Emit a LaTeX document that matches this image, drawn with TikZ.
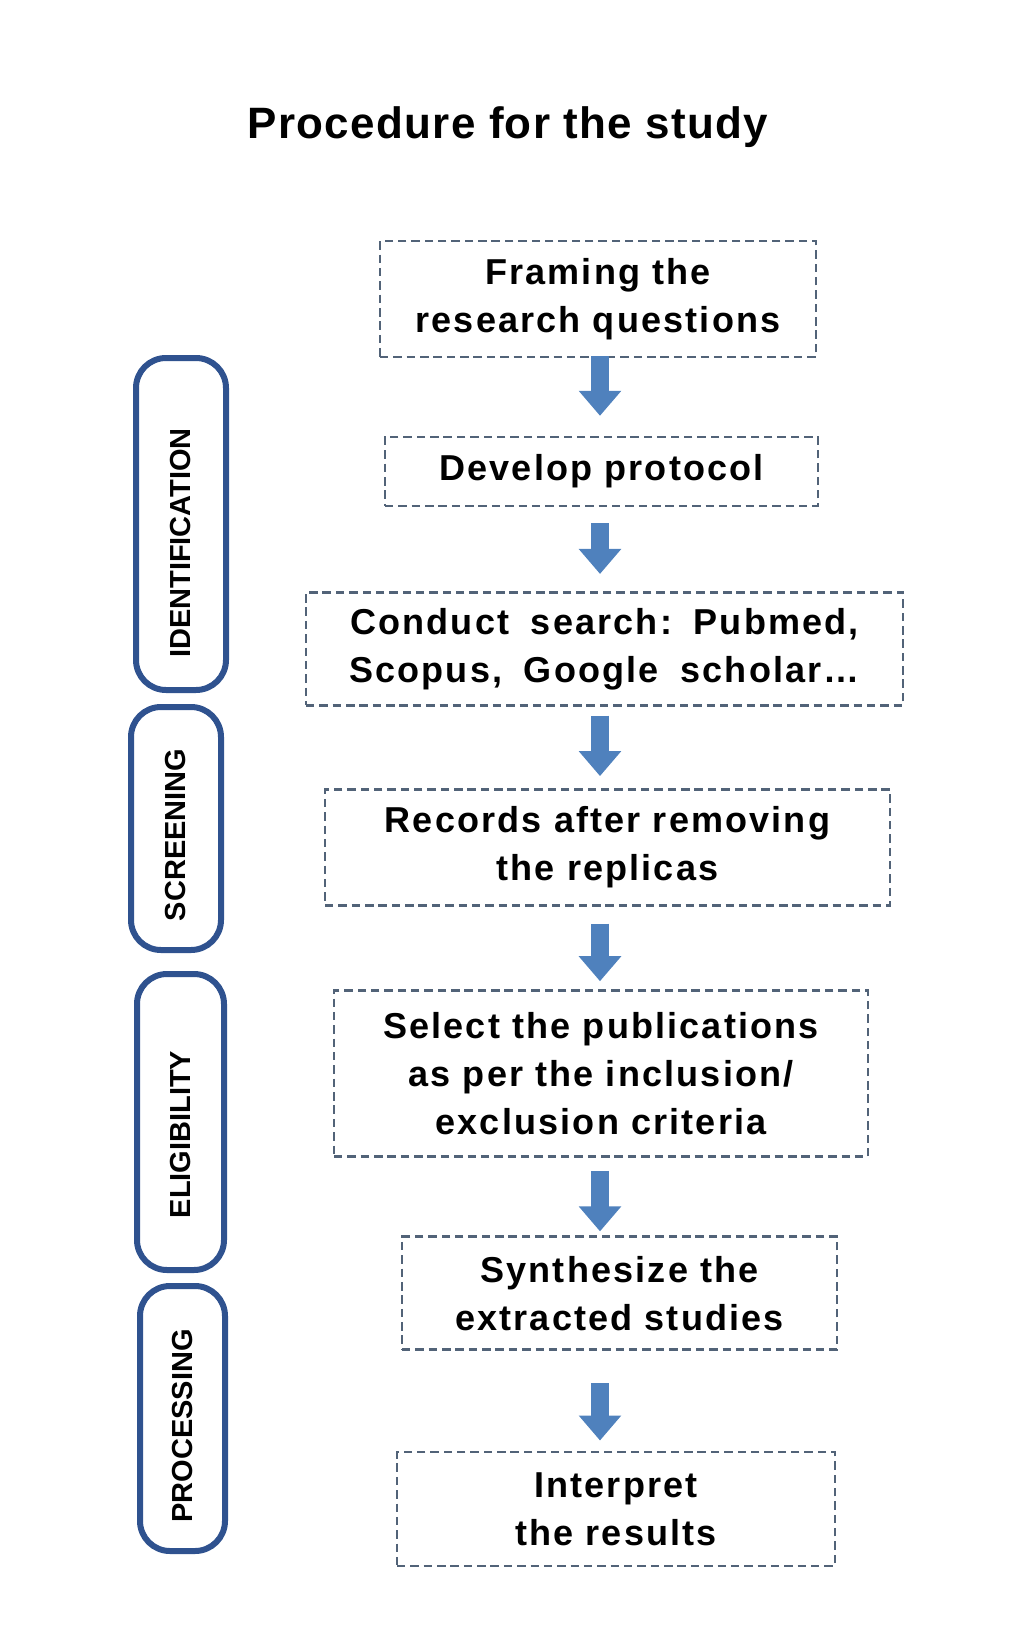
\documentclass[tikz,border=0pt]{standalone}
\usepackage{fontspec}
\setmainfont{Liberation Sans}
\newfontfamily\boxfont[LetterSpace=6]{Liberation Sans}
\newfontfamily\titlefont[LetterSpace=3]{Liberation Sans}
\usepackage{xcolor}
\usepackage{tikz}
\usetikzlibrary{arrows.meta,calc,positioning}

\definecolor{boxline}{RGB}{82,99,120}
\definecolor{phaseblue}{RGB}{47,82,143}
\definecolor{arrowblue}{RGB}{79,129,189}

\newcommand\widesp{\hspace{0.6em}}

\begin{document}
\begin{tikzpicture}[-,
    >={Triangle[width=0.82cm,length=0.5cm]},
    auto,
    node distance=1.7cm]
  \tikzstyle{procbox}=[draw=boxline,line width=1.5pt,dash pattern=on 4.8pt off 2.8pt,
    align=center,inner sep=2pt,font=\boxfont\bfseries\fontsize{20.5pt}{27.3pt}\selectfont]
  \tikzstyle{phase}=[draw=phaseblue,line width=0.12cm,rounded corners=0.6cm,
    inner sep=0pt,font=\bfseries\fontsize{16.5pt}{18pt}\selectfont]
  \tikzstyle{flow}=[->,draw=arrowblue,line width=0.36cm]

  \useasboundingbox (0,0) rectangle (20.3,-32.94);

  \node (title) at (10.16,-2.54)
    {\titlefont\bfseries\fontsize{25pt}{28pt}\selectfont Procedure for the study};

  \node (frame)    [procbox, minimum width=8.72cm, minimum height=2.32cm] at (11.96,-5.98)
    {Framing the\\research questions};
  \node (protocol) [procbox, below=1.55cm of frame, xshift=0.07cm,
                    minimum width=8.66cm, minimum height=1.38cm] {Develop protocol};
  \node (search)   [procbox, below=1.67cm of protocol, xshift=0.06cm,
                    minimum width=11.94cm, minimum height=2.26cm]
    {Conduct\widesp search:\widesp Pubmed,\\Scopus,\widesp Google\widesp scholar\dots};
  \node (records)  [procbox, below=1.63cm of search, xshift=0.06cm,
                    minimum width=11.3cm, minimum height=2.32cm]
    {Records after removing\\the replicas};
  \node (select)   [procbox, below=1.65cm of records, xshift=-0.13cm,
                    minimum width=10.68cm, minimum height=3.32cm]
    {Select the publications\\as per the inclusion/\\exclusion criteria};
  \node (synth)    [procbox, below=1.55cm of select, xshift=0.37cm,
                    minimum width=8.7cm, minimum height=2.26cm]
    {Synthesize the\\extracted studies};
  \node (interp)   [procbox, below=1.99cm of synth, xshift=-0.07cm,
                    minimum width=8.76cm, minimum height=2.28cm]
    {Interpret\\the results};

  \node (ident)  [phase, minimum width=1.8cm, minimum height=6.64cm] at (3.62,-10.48)
    {\rotatebox{90}{IDENTIFICATION\hspace*{0.76cm}}};
  \node (screen) [phase, minimum width=1.8cm, minimum height=4.86cm] at (3.52,-16.57)
    {\rotatebox{90}{SCREENING\hspace*{0.26cm}}};
  \node (elig)   [phase, minimum width=1.74cm, minimum height=5.92cm] at (3.61,-22.44)
    {\rotatebox{90}{ELIGIBILITY\hspace*{0.5cm}}};
  \node (proc)   [phase, minimum width=1.7cm, minimum height=5.3cm] at (3.65,-28.37)
    {\rotatebox{90}{PROCESSING\hspace*{0.3cm}}};

  \coordinate (axis) at (12,0);

  \path (frame.south -| axis)    edge [flow, shorten <=-0.04cm, shorten >=0.4cm]  (protocol.north -| axis)
        (protocol.south -| axis) edge [flow, shorten <=0.32cm, shorten >=0.34cm]  (search.north -| axis)
        (search.south -| axis)   edge [flow, shorten <=0.18cm, shorten >=0.24cm]  (records.north -| axis)
        (records.south -| axis)  edge [flow, shorten <=0.34cm, shorten >=0.16cm]  (select.north -| axis)
        (select.south -| axis)   edge [flow, shorten <=0.26cm, shorten >=0.08cm]  (synth.north -| axis)
        (synth.south -| axis)    edge [flow, shorten <=0.64cm, shorten >=0.2cm]   (interp.north -| axis);
\end{tikzpicture}
\end{document}
